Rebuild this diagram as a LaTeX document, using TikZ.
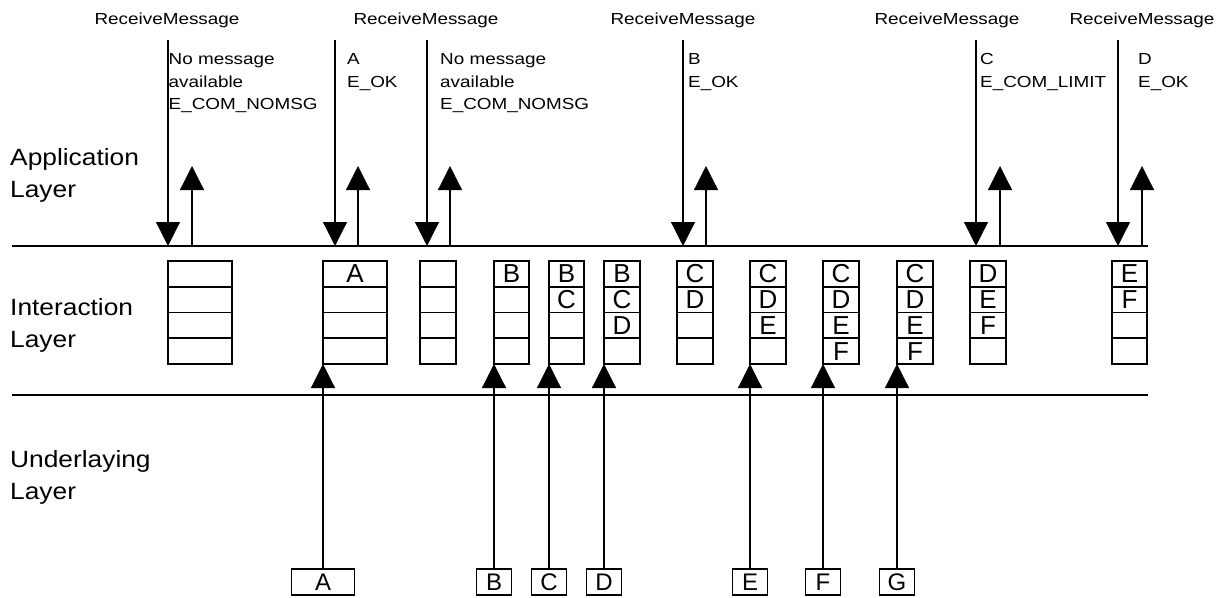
\documentclass[tikz,border=0pt]{standalone}
\usepackage{fontspec}
\setmainfont{Liberation Sans}
\newfontfamily\msgfont[FakeStretch=1.18]{Liberation Sans}
\newfontfamily\layerfont[FakeStretch=1.12]{Liberation Sans}
\usetikzlibrary{arrows.meta, positioning}

\begin{document}
\begin{tikzpicture}[
  x=1pt, y=-1pt,
  layer/.style={anchor=north west, align=left, inner sep=0pt,
                font=\fontsize{23.5}{32.5}\layerfont},
  call/.style={anchor=base, inner sep=0pt, font=\fontsize{16}{22.5}\msgfont},
  result/.style={anchor=north west, align=left, inner sep=0pt,
                 font=\fontsize{16}{22.5}\msgfont},
  cell/.style={draw, line width=1.8pt, outer sep=0pt, inner sep=0pt,
               minimum height=25.75pt, font=\fontsize{26}{26}\selectfont},
  inbox/.style={draw, line width=1.8pt, inner sep=0pt,
                minimum height=26pt, font=\fontsize{24}{24}\selectfont},
  arr/.style={-{Triangle[width=24pt,length=24pt]}, line width=1.2pt},
  layerline/.style={line width=2.6pt},
]
\useasboundingbox (0,0) rectangle (1231,597);

%% Layer names
\node[layer] (app) at (10,148) {Application\\Layer};
\node[layer] (int) at (10,298) {Interaction\\Layer};
\node[layer] (und) at (10,450) {Underlaying\\Layer};

%% Queues in the interaction layer
\foreach \n/\x/\w/\a/\b/\c/\d in {1/168/64/{}/{}/{}/{}, 2/323/64/A/{}/{}/{},
    3/420/36/{}/{}/{}/{}, 4/494/35/B/{}/{}/{}, 5/549/35/B/C/{}/{},
    6/604/36/B/C/D/{}, 7/677/36/C/D/{}/{}, 8/750/36/C/D/E/{},
    9/823/36/C/D/E/F, 10/897/36/C/D/E/F, 11/970/36/D/E/F/{},
    12/1112/35/E/F/{}/{}} {
  \node[cell, minimum width=\w pt, anchor=north west] (q\n-1) at (\x,261) {\a};
  \node[cell, minimum width=\w pt, below=0pt of q\n-1] (q\n-2) {\b};
  \node[cell, minimum width=\w pt, below=0pt of q\n-2] (q\n-3) {\c};
  \node[cell, minimum width=\w pt, below=0pt of q\n-3] (q\n-4) {\d};
}

%% Layer borders
\coordinate (appL) at (12,246);
\coordinate (appR) at (1148,246);
\coordinate (undL) at (12,395);
\coordinate (undR) at (1148,395);
\draw[layerline] (appL) -- (appR);
\draw[layerline] (undL) -- (undR);

%% Messages from the underlaying layer
\node[inbox, minimum width=63pt] (inA) at (323,582) {A};
\node[inbox, minimum width=35pt] (inB) at (494,582) {B};
\node[inbox, minimum width=35pt] (inC) at (549,582) {C};
\node[inbox, minimum width=35pt] (inD) at (604,582) {D};
\node[inbox, minimum width=35pt] (inE) at (750,582) {E};
\node[inbox, minimum width=35pt] (inF) at (823,582) {F};
\node[inbox, minimum width=35pt] (inG) at (897,582) {G};

\draw[arr] (inA) -- (q2-4.south west);
\draw[arr] (inB) -- (q4-4.south west);
\draw[arr] (inC) -- (q5-4.south west);
\draw[arr] (inD) -- (q6-4.south west);
\draw[arr] (inE) -- (q8-4.south west);
\draw[arr] (inF) -- (q9-4.south west);
\draw[arr] (inG) -- (q10-4.south west);

%% Calls from the application layer
\foreach \n/\d/\u in {1/168/192, 2/335/358, 3/427/450, 4/683/706,
    5/976/1000, 6/1118/1142} {
  \coordinate (call\n) at (\d,40);
  \coordinate (ret\n) at (\u,166);
  \draw[arr] (call\n) -- (call\n |- appL);
  \draw[arr] (ret\n |- appL) -- (ret\n);
}

\node[call] (rm1) at (167,24) {ReceiveMessage};
\node[call] (rm2) at (426,24) {ReceiveMessage};
\node[call] (rm3) at (683,24) {ReceiveMessage};
\node[call] (rm4) at (947,24) {ReceiveMessage};
\node[call] (rm5) at (1142,24) {ReceiveMessage};

\node[result] (res1) at (168.5,53.5) {No message\\available\\E\_COM\_NOMSG};
\node[result] (res2) at (347,53.5) {A\\E\_OK};
\node[result] (res3) at (440,53.5) {No message\\available\\E\_COM\_NOMSG};
\node[result] (res4) at (688,53.5) {B\\E\_OK};
\node[result] (res5) at (980,53.5) {C\\E\_COM\_LIMIT};
\node[result] (res6) at (1138,53.5) {D\\E\_OK};

\end{tikzpicture}
\end{document}
